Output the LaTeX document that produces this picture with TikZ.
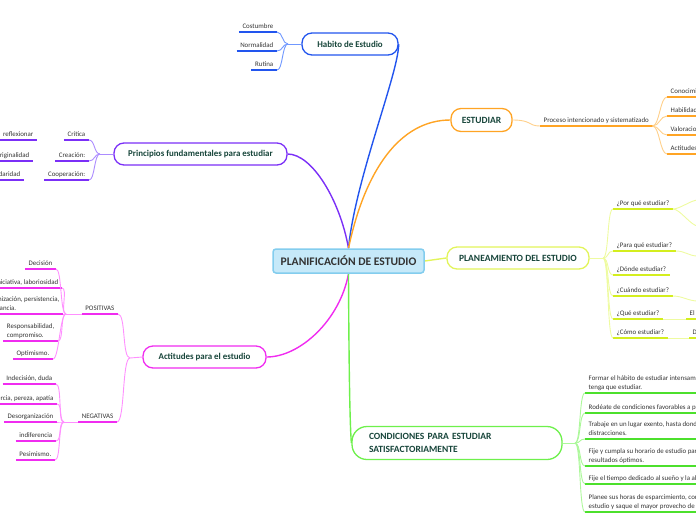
\documentclass[tikz,border=0pt]{standalone}
\usepackage{fontspec}
\setmainfont{Carlito}
\usetikzlibrary{backgrounds}
\definecolor{txt}{HTML}{333333}
\definecolor{dgreen}{HTML}{17453A}
\definecolor{habC}{HTML}{2255EE}
\definecolor{habL}{HTML}{7098FF}
\definecolor{prinC}{HTML}{7B2FF7}
\definecolor{prinL}{HTML}{AC8CFF}
\definecolor{actC}{HTML}{F02CF0}
\definecolor{actL}{HTML}{FF90FF}
\definecolor{estC}{HTML}{FFA424}
\definecolor{estL}{HTML}{FFD08A}
\definecolor{planC}{HTML}{E2F45A}
\definecolor{planU}{HTML}{D4EE1E}
\definecolor{planL}{HTML}{EEFBA0}
\definecolor{condC}{HTML}{6EF04C}
\definecolor{condU}{HTML}{4CE02C}
\definecolor{condL}{HTML}{ACF89A}
\definecolor{cenF}{HTML}{C6E9F9}
\definecolor{cenD}{HTML}{83CDEE}
\begin{document}
\begin{tikzpicture}[x=1pt,y=-1pt,
  leaf/.style={font=\fontsize{6.9}{9}\selectfont, text=txt, inner xsep=3.5pt, inner ysep=2pt, text depth=1.6pt, align=left},
  pill/.style={draw, rounded corners=10pt, line width=1.3pt, fill=white, font=\bfseries\fontsize{8.9}{10.5}\selectfont, text=dgreen, minimum height=22pt, inner xsep=5pt},
  capspill/.style={pill, font=\bfseries\fontsize{9.5}{13}\selectfont},
  ul/.style={line width=1.7pt},
  conn/.style={line width=0.9pt},
  mconn/.style={line width=1.4pt}]
\useasboundingbox (0,0) rectangle (696,520);
\clip (0,0) rectangle (696,520);

% central
\node[draw=cenD, fill=cenF, line width=1.5pt, rounded corners=3pt, minimum width=151pt, minimum height=24pt, inner xsep=3pt, font=\bfseries\fontsize{11.6}{13}\selectfont, text=txt] (central) at (348.5,261) {PLANIFICACIÓN DE ESTUDIO};

% main nodes
\node[pill, draw=habC, minimum width=96pt] (hab) at (350,44) {Habito de Estudio};
\node[pill, draw=prinC, minimum width=173pt] (prin) at (200.5,154) {Principios fundamentales para estudiar};
\node[pill, draw=actC, minimum width=123pt] (act) at (204.5,357) {Actitudes para el estudio};
\node[capspill, draw=estC, minimum width=61pt, minimum height=23pt] (est) at (481.5,120) {ESTUDIAR};
\node[capspill, draw=planC, minimum width=142pt] (plan) at (518,258) {PLANEAMIENTO DEL ESTUDIO};
\node[capspill, draw=condC, rounded corners=15pt, minimum height=33pt, text width=176pt, inner xsep=17pt, align=left] (cond) at (457,443) {CONDICIONES PARA ESTUDIAR\\SATISFACTORIAMENTE};

% main connectors
\begin{pgfonlayer}{background}
\draw[mconn, habC] (central.north) .. controls (355,180) and (399,72) .. (hab.east);
\draw[mconn, prinC] (central.north) .. controls (340,200) and (312,154) .. (prin.east);
\draw[mconn, estC] (central.north) .. controls (365,170) and (400,120) .. (est.west);
\draw[mconn, planC] (central.east) -- (plan.west);
\draw[mconn, actC] (central.south) .. controls (340,320) and (300,357) .. (act.east);
\draw[mconn, condC] (central.south) .. controls (349,380) and (350,425) .. (cond.west);
\end{pgfonlayer}

% ---- Habito de Estudio
\node[leaf, anchor=south east] (cost) at (277,32) {Costumbre};
\node[leaf, anchor=south east] (norm) at (277,51) {Normalidad};
\node[leaf, anchor=south east] (rut) at (277,70) {Rutina};
\foreach \n in {cost,norm,rut} \draw[ul, habC] (\n.south west) -- (\n.south east);
\coordinate (hb) at (288,44);
\draw[conn, habL] (hab.west) -- (hb);
\foreach \n in {cost,norm,rut} \draw[conn, habL] (hb) .. controls +(-6,0) and +(6,0) .. (\n.south east);

% ---- Principios
\node[leaf, anchor=south east] (crit) at (89,140) {Crítica};
\node[leaf, anchor=south east] (crea) at (89,161) {Creación:};
\node[leaf, anchor=south east] (coop) at (89,180) {Cooperación:};
\node[leaf, anchor=south east] (refl) at (37,140) {reflexionar};
\node[leaf, anchor=south east] (orig) at (33,161) {originalidad};
\node[leaf, anchor=south east] (soli) at (24,180) {solidaridad};
\foreach \n in {crit,crea,coop,refl,orig,soli} \draw[ul, prinC] (\n.south west) -- (\n.south east);
\coordinate (pb) at (100,154);
\draw[conn, prinL] (prin.west) -- (pb);
\foreach \n in {crit,crea,coop} \draw[conn, prinL] (pb) .. controls +(-6,0) and +(6,0) .. (\n.south east);

% ---- Actitudes
\node[leaf, anchor=south east] (pos) at (118,314) {POSITIVAS};
\node[leaf, anchor=south east] (neg) at (117,422) {NEGATIVAS};
\coordinate (ab) at (130,358);
\draw[conn, actL] (act.west) -- (ab);
\foreach \n in {pos,neg} \draw[conn, actL] (ab) .. controls +(-8,0) and +(8,0) .. (\n.south east);
\node[leaf, anchor=south east] (dec) at (56,269) {Decisión};
\node[leaf, anchor=south east] (ini) at (62,288) {Iniciativa, laboriosidad};
\node[leaf, anchor=south east] (org) at (63,314) {Organización, persistencia,\\constancia.};
\node[leaf, anchor=south east] (resp) at (58,341) {Responsabilidad,\\compromiso.};
\node[leaf, anchor=south east] (opt) at (53,359) {Optimismo.};
\node[leaf, anchor=south east] (ind) at (56,384) {Indecisión, duda};
\node[leaf, anchor=south east] (iner) at (57,404) {Inercia, pereza, apatía};
\node[leaf, anchor=south east] (des) at (57,422) {Desorganización};
\node[leaf, anchor=south east] (indi) at (56,441) {indiferencia};
\node[leaf, anchor=south east] (pes) at (55,460) {Pesimismo.};
\foreach \n in {pos,neg,dec,ini,org,resp,opt,ind,iner,des,indi,pes} \draw[ul, actC] (\n.south west) -- (\n.south east);
\coordinate (posb) at (66,314);
\coordinate (negb) at (64,422);
\draw[conn, actL] (pos.south west) -- (posb);
\draw[conn, actL] (neg.south west) -- (negb);
\foreach \n in {dec,ini,org,resp,opt} \draw[conn, actL] (posb) .. controls +(-6,0) and +(6,0) .. (\n.south east);
\foreach \n in {ind,iner,des,indi,pes} \draw[conn, actL] (negb) .. controls +(-6,0) and +(6,0) .. (\n.south east);

% ---- ESTUDIAR
\node[leaf, anchor=south west] (proc) at (540,126) {Proceso intencionado y sistematizado};
\draw[ul, estC] (proc.south west) -- (proc.south east);
\draw[conn, estL] (est.east) .. controls (532,120) and (528,126) .. (proc.south west);
\node[leaf, anchor=south west] (e1) at (667,97) {Conocimientos};
\node[leaf, anchor=south west] (e2) at (667,116) {Habilidades};
\node[leaf, anchor=south west] (e3) at (667,135) {Valoraciones};
\node[leaf, anchor=south west] (e4) at (667,154) {Actitudes, hábitos};
\foreach \n in {e1,e2,e3,e4} {
  \draw[ul, estC] (\n.south west) -- (\n.south east);
  \draw[conn, estL] (proc.south east) .. controls +(7,0) and +(-7,0) .. (\n.south west);
}

% ---- PLANEAMIENTO
\coordinate (plb) at (603,258);
\draw[conn, planL] (plan.east) -- (plb);
\node[leaf, anchor=south west] (q1) at (613,209) {¿Por qué estudiar?};
\node[leaf, anchor=south west] (q2) at (613,251) {¿Para qué estudiar?};
\node[leaf, anchor=south west] (q3) at (613,275) {¿Dónde estudiar?};
\node[leaf, anchor=south west] (q4) at (613,296) {¿Cuándo estudiar?};
\node[leaf, anchor=south west] (q5) at (613,319) {¿Qué estudiar?};
\node[leaf, anchor=south west] (q6) at (613,338) {¿Cómo estudiar?};
\foreach \n in {q1,q2,q3,q4,q5,q6} {
  \draw[ul, planU] (\n.south west) -- (\n.south east);
  \draw[conn, planL] (plb) .. controls +(6,0) and +(-6,0) .. (\n.south west);
}
\coordinate (g1) at (698,200);
\coordinate (g2) at (698,226);
\coordinate (g3) at (698,256);
\coordinate (g4) at (698,301);
\draw[conn, planL] (q1.south east) .. controls +(7,0) and +(-7,0) .. (g1);
\draw[conn, planL] (q1.south east) .. controls +(7,0) and +(-7,0) .. (g2);
\draw[conn, planL] (q2.south east) .. controls +(10,0) and +(-10,0) .. (g3);
\draw[conn, planL] (q4.south east) .. controls +(10,0) and +(-10,0) .. (g4);
\node[leaf, anchor=south west] (q5a) at (686,319) {El};
\node[leaf, anchor=south west] (q6a) at (689,338) {D};
\draw[ul, planU] (q5a.south west) -- (q5a.south east);
\draw[ul, planU] (q6a.south west) -- (q6a.south east);
\draw[conn, planL] (q5.south east) -- (q5a.south west);
\draw[conn, planL] (q6.south east) -- (q6a.south west);

% ---- CONDICIONES
\coordinate (cb) at (575,443);
\draw[conn, condL] (cond.east) -- (cb);
\node[leaf, anchor=south west] (c1) at (585,393) {Formar el hábito de estudiar intensamente cada vez que\\tenga que estudiar.};
\node[leaf, anchor=south west] (c2) at (585,413) {Rodéate de condiciones favorables a presentar el estudio.};
\node[leaf, anchor=south west] (c3) at (585,439) {Trabaje en un lugar exento, hasta donde sea posible, de\\distracciones.};
\node[leaf, anchor=south west] (c4) at (585,466) {Fije y cumpla su horario de estudio para obtener\\resultados óptimos.};
\node[leaf, anchor=south west] (c5) at (585,484) {Fije el tiempo dedicado al sueño y la alimentación.};
\node[leaf, anchor=south west] (c6) at (585,512) {Planee sus horas de esparcimiento, complementarias al\\estudio y saque el mayor provecho de ellas.};
\foreach \n in {c1,c2,c3,c4,c5,c6} {
  \draw[ul, condU] (\n.south west) -- ([xshift=40pt]\n.south east);
  \draw[conn, condL] (cb) .. controls +(6,0) and +(-6,0) .. (\n.south west);
}
\end{tikzpicture}
\end{document}
